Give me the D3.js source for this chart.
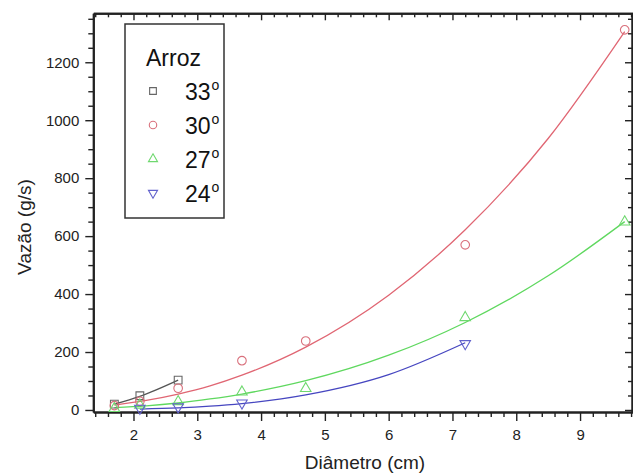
<!DOCTYPE html>
<html>
<head>
    <title>Vazão x Diâmetro - Arroz</title>
    <style>
        body { margin: 0; background: #fff; }
        svg { font-family: 'Liberation Sans', Arial, sans-serif; }
        .axis path, .axis line { stroke: #222; }
        .axis path { stroke-width: 2; }
        .axis line { stroke-width: 1.4; }
        .axis text { font-size: 15px; fill: #222; }
        .fit { fill: none; stroke-width: 1.3; }
        .mark { fill: none; stroke-width: 1.1; }
    </style>
</head>
<body>
    <div id="chart"></div>

    <script src="https://d3js.org/d3.v7.min.js"></script>

    <script>
        // measured points (diameter in cm, flow in g/s)
        const x33 = [1.7, 2.1, 2.7];
        const y33 = [20, 49, 103];
        const x30 = [1.7, 2.1, 2.7, 3.7, 4.7, 7.2, 9.7];
        const y30 = [15, 30, 75, 170, 238, 570, 1312];
        const x27 = [1.7, 2.1, 2.7, 3.7, 4.7, 7.2, 9.7];
        const y27 = [5, 17, 29, 62, 74, 319, 649];
        const x24 = [2.1, 2.7, 3.7, 7.2];
        const y24 = [6, 11, 24, 229];

        // fitted curves
        const fitX33 = [1.7, 2.1, 2.7];
        const fitY33 = [20, 47, 103];
        const fitX30 = [1.7, 2.2, 2.7, 3.2, 3.7, 4.7, 6, 7.2, 8.5, 9.7];
        const fitY30 = [17, 33, 55, 83, 120, 217, 396, 622, 937, 1306];
        const fitX27 = [1.7, 2.2, 2.7, 3.2, 3.7, 4.7, 6, 7.2, 8.5, 9.7];
        const fitY27 = [8, 14, 24, 38, 55, 101, 189, 302, 463, 650];
        const fitX24 = [2.1, 2.7, 3.2, 3.7, 4.7, 6, 7.2];
        const fitY24 = [3, 7, 13, 22, 52, 122, 232];

        const legendLabels = ["33", "30", "27", "24"];
        const xTicks = [2, 3, 4, 5, 6, 7, 8, 9];
        const yTicks = [0, 200, 400, 600, 800, 1000, 1200];

        const [width, height] = [633, 474];
        const frame = {left: 93.3, right: 633, top: 13.3, bottom: 412};

        const svg = d3.select("#chart")
                        .append("svg")
                        .attr("width", width)
                        .attr("height", height);

        const x = d3.scaleLinear()
                    .domain([1.37, 9.83])
                    .range([frame.left, frame.right]);

        const y = d3.scaleLinear()
                    .domain([-7, 1369])
                    .range([frame.bottom, frame.top]);

        const xMinor = d3.range(7, 50).map(i => i / 5).filter(v => !Number.isInteger(v));
        const yMinor = d3.range(0, 1400, 50).filter(v => v % 200 !== 0);

        // bottom axis (outward ticks) + minor ticks
        svg.append("g").attr("class", "axis")
            .attr("transform", `translate(0, ${frame.bottom})`)
            .call(d3.axisBottom(x).tickValues(xMinor).tickSize(5).tickFormat("").tickSizeOuter(0));
        svg.append("g").attr("class", "axis")
            .attr("transform", `translate(0, ${frame.bottom})`)
            .call(d3.axisBottom(x).tickValues(xTicks).tickSize(9).tickPadding(8).tickFormat(d3.format("d")).tickSizeOuter(0));

        // top axis (inward ticks)
        svg.append("g").attr("class", "axis")
            .attr("transform", `translate(0, ${frame.top})`)
            .call(d3.axisBottom(x).tickValues(xMinor).tickSize(4).tickFormat("").tickSizeOuter(0));
        svg.append("g").attr("class", "axis")
            .attr("transform", `translate(0, ${frame.top})`)
            .call(d3.axisBottom(x).tickValues(xTicks).tickSize(7).tickFormat("").tickSizeOuter(0));

        // left axis (outward ticks)
        svg.append("g").attr("class", "axis")
            .attr("transform", `translate(${frame.left}, 0)`)
            .call(d3.axisLeft(y).tickValues(yMinor).tickSize(5).tickFormat("").tickSizeOuter(0));
        svg.append("g").attr("class", "axis")
            .attr("transform", `translate(${frame.left}, 0)`)
            .call(d3.axisLeft(y).tickValues(yTicks).tickSize(8).tickPadding(6).tickFormat(d3.format("d")).tickSizeOuter(0));

        // right axis (inward ticks)
        svg.append("g").attr("class", "axis")
            .attr("transform", `translate(${frame.right - 1}, 0)`)
            .call(d3.axisLeft(y).tickValues(yMinor).tickSize(4).tickFormat("").tickSizeOuter(0));
        svg.append("g").attr("class", "axis")
            .attr("transform", `translate(${frame.right - 1}, 0)`)
            .call(d3.axisLeft(y).tickValues(yTicks).tickSize(7).tickFormat("").tickSizeOuter(0));

        // axis titles
        svg.append("text")
            .attr("text-anchor", "middle")
            .attr("x", 365)
            .attr("y", 469)
            .style("font-size", "19px")
            .style("fill", "#222")
            .text("Diâmetro (cm)");

        svg.append("text")
            .attr("text-anchor", "middle")
            .attr("transform", "translate(31, 227) rotate(-90)")
            .style("font-size", "19px")
            .style("fill", "#222")
            .text("Vazão (g/s)");

        const series = [
            {xs: x33, ys: y33, fx: fitX33, fy: fitY33, color: "#666666", line: "#555555", sym: d3.symbolSquare, size: 60, rot: 0},
            {xs: x30, ys: y30, fx: fitX30, fy: fitY30, color: "#d9707c", line: "#e06673", sym: d3.symbolCircle, size: 58, rot: 0},
            {xs: x27, ys: y27, fx: fitX27, fy: fitY27, color: "#6fd86f", line: "#5fd85f", sym: d3.symbolTriangle, size: 48, rot: 0},
            {xs: x24, ys: y24, fx: fitX24, fy: fitY24, color: "#6262cc", line: "#4646c0", sym: d3.symbolTriangle, size: 48, rot: 180}
        ];

        const line = d3.line()
                        .x(d => x(d[0]))
                        .y(d => y(d[1]))
                        .curve(d3.curveMonotoneX);

        series.forEach(s => {
            svg.append("path")
                .attr("class", "fit")
                .attr("stroke", s.line)
                .attr("d", line(d3.zip(s.fx, s.fy)));
        });

        series.forEach(s => {
            svg.selectAll(null)
                .data(d3.zip(s.xs, s.ys))
                .enter().append("path")
                .attr("class", "mark")
                .attr("stroke", s.color)
                .attr("d", d3.symbol().type(s.sym).size(s.size))
                .attr("transform", d => `translate(${x(d[0])}, ${y(d[1])}) rotate(${s.rot})`);
        });

        // legend
        const legend = svg.append("g");
        legend.append("rect")
            .attr("x", 125).attr("y", 24)
            .attr("width", 99).attr("height", 194)
            .attr("fill", "#fff")
            .attr("stroke", "#333")
            .attr("stroke-width", 1.5);
        legend.append("text")
            .attr("x", 146).attr("y", 66)
            .style("font-size", "23px")
            .style("fill", "#111")
            .text("Arroz");

        legendLabels.forEach((lab, i) => {
            const s = series[i];
            const cy = 91 + i * 34;
            legend.append("path")
                .attr("class", "mark")
                .attr("stroke", s.color)
                .attr("d", d3.symbol().type(s.sym).size(s.size * 0.75))
                .attr("transform", `translate(153, ${cy}) rotate(${s.rot})`);
            const t = legend.append("text")
                .attr("x", 185).attr("y", cy + 9)
                .style("font-size", "23px")
                .style("fill", "#111")
                .text(lab);
            t.append("tspan")
                .attr("dy", -10)
                .attr("dx", 1)
                .style("font-size", "14px")
                .text("o");
        });
    </script>
</body>
</html>
